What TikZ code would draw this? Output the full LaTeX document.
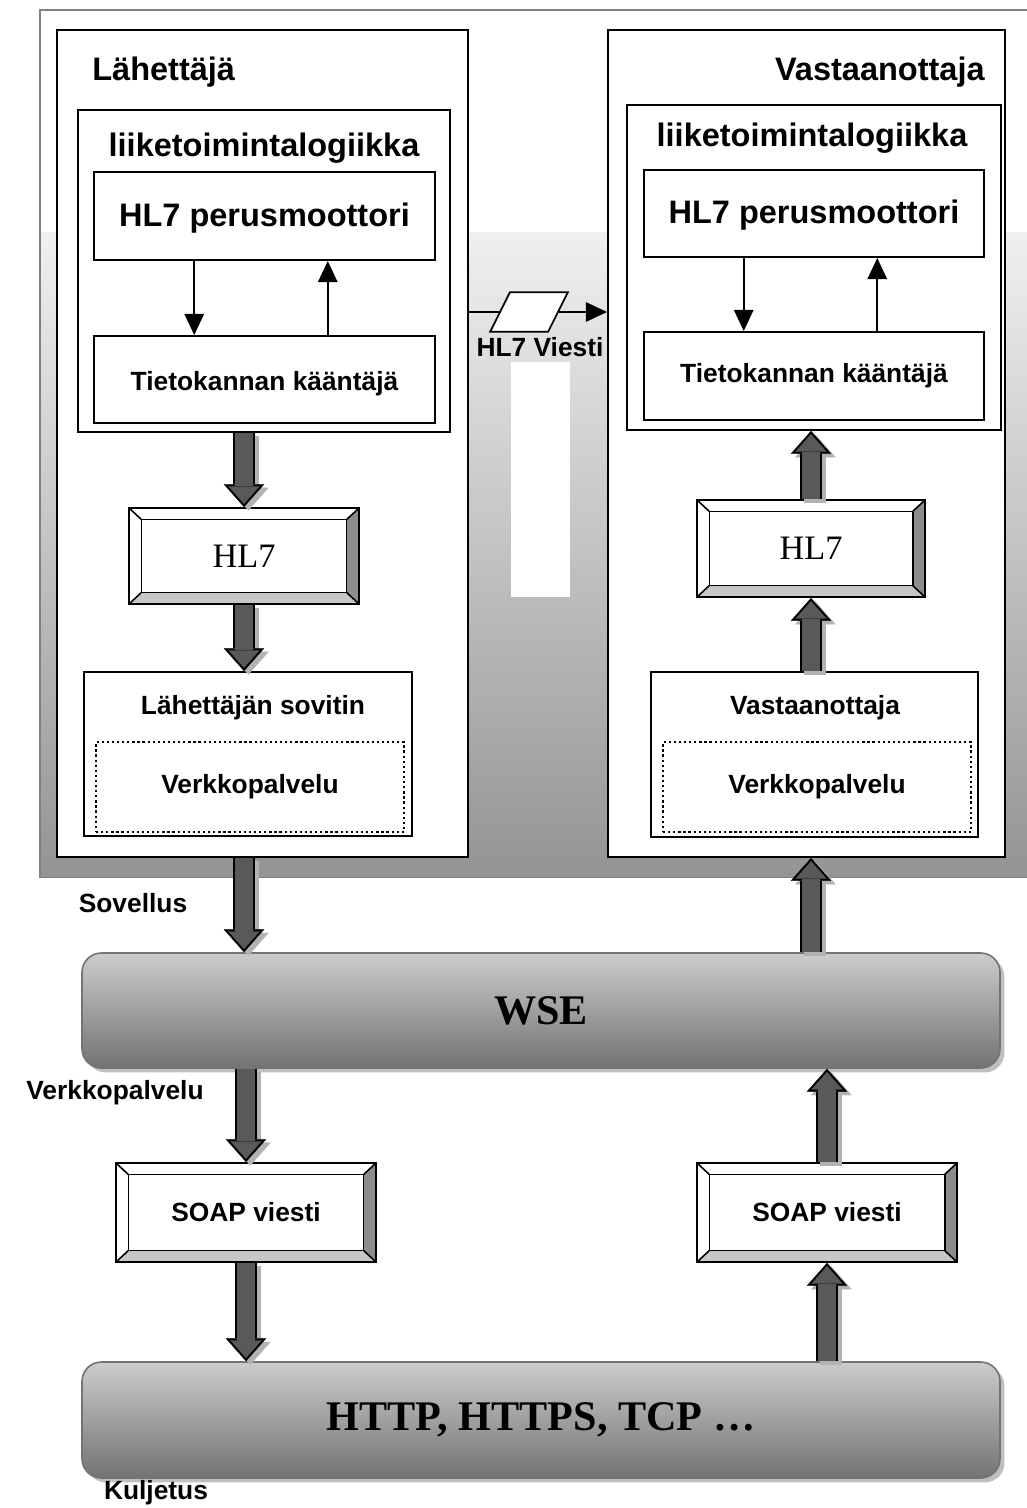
\documentclass[tikz,border=0pt]{standalone}
\usepackage{fontspec}
\setmainfont{Liberation Sans}
\newfontfamily\timesfont{Liberation Serif}
\usetikzlibrary{arrows.meta,fit,shadows}

\newcommand{\titlefont}{\fontsize{18.5}{22}\selectfont\bfseries}
\newcommand{\labelfont}{\fontsize{15}{18}\selectfont\bfseries}
\newcommand{\hlfont}{\timesfont\fontsize{19.5}{23}\selectfont}
\newcommand{\layerfont}{\timesfont\fontsize{24}{28}\selectfont\bfseries}

\tikzset{
  box/.style={draw, line width=1.1pt, fill=white, inner sep=0pt},
  dotbox/.style={draw, line width=1.3pt, dash pattern=on 1.3pt off 1.6pt, inner sep=0pt},
  bevel/.style={box, path picture={
      \fill[black!45] (path picture bounding box.north east) -- (path picture bounding box.south east)
        -- ([xshift=-7pt,yshift=6.5pt]path picture bounding box.south east)
        -- ([xshift=-7pt,yshift=-6.5pt]path picture bounding box.north east) -- cycle;
      \fill[black!22] (path picture bounding box.south west) -- (path picture bounding box.south east)
        -- ([xshift=-7pt,yshift=6.5pt]path picture bounding box.south east)
        -- ([xshift=7pt,yshift=6.5pt]path picture bounding box.south west) -- cycle;
      \draw[line width=0.9pt] ([xshift=7pt,yshift=-6.5pt]path picture bounding box.north west)
        rectangle ([xshift=-7pt,yshift=6.5pt]path picture bounding box.south east);
      \foreach \corner/\dx/\dy in {north west/7/-6.5, north east/-7/-6.5, south west/7/6.5, south east/-7/6.5}
        \draw[line width=0.9pt] (path picture bounding box.\corner) -- ([xshift=\dx pt,yshift=\dy pt]path picture bounding box.\corner);
  }},
  layerbar/.style={draw=black!55, line width=0.9pt, rounded corners=11pt, top color=black!20, bottom color=black!55,
    inner sep=0pt, drop shadow={shadow xshift=2.5pt, shadow yshift=-2.5pt, fill=black!25, opacity=1}},
  smallarrow/.style={line width=1pt, -{Triangle[length=12pt,width=11pt]}},
  bigarrow/.style={line width=10pt, draw=black!65, -{Triangle[length=10pt,width=17.7pt,line width=0.1pt]}, shorten >=1.8pt,
    preaction={draw=black!30, line width=12.5pt, -{Triangle[length=13pt,width=23pt,line width=0.1pt]}, shorten >=0pt,
      transform canvas={xshift=2.5pt,yshift=-2pt}},
    preaction={draw=black, line width=12.5pt, -{Triangle[length=13pt,width=23pt,line width=0.1pt]}, shorten >=0pt}},
  para/.style={draw, line width=1pt, fill=white, xslant=0.5, minimum width=33pt, minimum height=22.5pt, inner sep=0pt}
}

\begin{document}
\begin{tikzpicture}[x=0.02cm, y=-0.02cm]
    \useasboundingbox (0,0) rectangle (1027,1508);
    \clip (0,0) rectangle (1027,1508);

    % grey panel behind the application layer
    \filldraw[draw=black!50, line width=1.5pt, fill=white] (40,10) rectangle (1040,877);
    \shade[top color=black!6, bottom color=black!42] (41,232) rectangle (1040,876);
    \fill[white] (511,362) rectangle (570,597);

    % sender side
    \node[box, fit={(57,30) (468,857)}] (lahL) {};
    \node[anchor=west, inner sep=0pt, font=\titlefont] (ttlL) at (92,72) {Lähettäjä};
    \node[box, fit={(78,110) (450,432)}] (liikeL) {};
    \node[font=\titlefont] (bizL) at (264,148) {liiketoimintalogiikka};
    \node[box, fit={(94,172) (435,260)}, label={[font=\titlefont, yshift=-1pt]center:HL7 perusmoottori}] (engL) {};
    \node[box, fit={(94,336) (435,423)}, label={[font=\labelfont, yshift=-2.5pt]center:Tietokannan kääntäjä}] (dbL) {};
    \node[bevel, fit={(129,508) (359,604)}, label={[font=\hlfont]center:HL7}] (hlL) {};
    \node[box, fit={(84,672) (412,836)}] (adpL) {};
    \node[font=\labelfont] (adpLtxt) at (253,708) {Lähettäjän sovitin};
    \node[dotbox, fit={(96,742) (404,832)}, label={[font=\labelfont]center:Verkkopalvelu}] (wsL) {};

    % receiver side
    \node[box, fit={(608,30) (1005,857)}] (vasR) {};
    \node[anchor=east, inner sep=0pt, font=\titlefont] (ttlR) at (985,72) {Vastaanottaja};
    \node[box, fit={(627,105) (1001,430)}] (liikeR) {};
    \node[font=\titlefont] (bizR) at (812,138) {liiketoimintalogiikka};
    \node[box, fit={(644,170) (984,257)}, label={[font=\titlefont, yshift=-1pt]center:HL7 perusmoottori}] (engR) {};
    \node[box, fit={(644,332) (984,420)}, label={[font=\labelfont]center:Tietokannan kääntäjä}] (dbR) {};
    \node[bevel, fit={(697,500) (925,597)}, label={[font=\hlfont]center:HL7}] (hlR) {};
    \node[box, fit={(651,672) (978,837)}] (adpR) {};
    \node[font=\labelfont] (adpRtxt) at (815,708) {Vastaanottaja};
    \node[dotbox, fit={(663,742) (971,832)}, label={[font=\labelfont]center:Verkkopalvelu}] (wsR) {};

    % lower layers
    \node[layerbar, fit={(82,953) (1000,1068)}, label={[font=\layerfont]center:WSE}] (wse) {};
    \node[bevel, fit={(116,1163) (376,1262)}, label={[font=\labelfont]center:SOAP viesti}] (soapL) {};
    \node[bevel, fit={(697,1163) (957,1262)}, label={[font=\labelfont]center:SOAP viesti}] (soapR) {};
    \node[layerbar, fit={(82,1362) (1000,1478)}, label={[font=\layerfont]center:HTTP, HTTPS, TCP …}] (trans) {};

    \node[font=\labelfont] (sov) at (133,903) {Sovellus};
    \node[font=\labelfont] (verk) at (115,1093) {Verkkopalvelu};
    \node[font=\labelfont] (kulj) at (156,1493) {Kuljetus};

    % message between the two sides
    \node[para] (msg) at (529,312) {};
    \node[font=\labelfont] (msgtxt) at (540,347) {HL7 Viesti};
    \draw[line width=1pt] (lahL.east |- msg) -- (msg);
    \draw[smallarrow] (msg) -- (vasR.west |- msg);

    % inside the business logic
    \draw[smallarrow] ([xshift=-40pt]engL.south) -- ([xshift=-40pt]dbL.north);
    \draw[smallarrow] ([xshift=36pt]dbL.north) -- ([xshift=36pt]engL.south);
    \draw[smallarrow] ([xshift=-40pt]engR.south) -- ([xshift=-40pt]dbR.north);
    \draw[smallarrow] ([xshift=36pt]dbR.north) -- ([xshift=36pt]engR.south);

    % down the sender stack
    \draw[bigarrow] (liikeL.south -| hlL.north) -- (hlL.north);
    \draw[bigarrow] (hlL.south) -- (hlL.south |- adpL.north);
    \draw[bigarrow] (hlL.south |- lahL.south) -- (hlL.south |- wse.north);
    \draw[bigarrow] (soapL.north |- wse.south) -- (soapL.north);
    \draw[bigarrow] (soapL.south) -- (soapL.south |- trans.north);

    % up the receiver stack
    \draw[bigarrow] (hlR.south |- adpR.north) -- (hlR.south);
    \draw[bigarrow] (hlR.north) -- (hlR.north |- liikeR.south);
    \draw[bigarrow] (hlR.south |- wse.north) -- (hlR.south |- vasR.south);
    \draw[bigarrow] (soapR.north) -- (soapR.north |- wse.south);
    \draw[bigarrow] (soapR.south |- trans.north) -- (soapR.south);
\end{tikzpicture}
\end{document}
